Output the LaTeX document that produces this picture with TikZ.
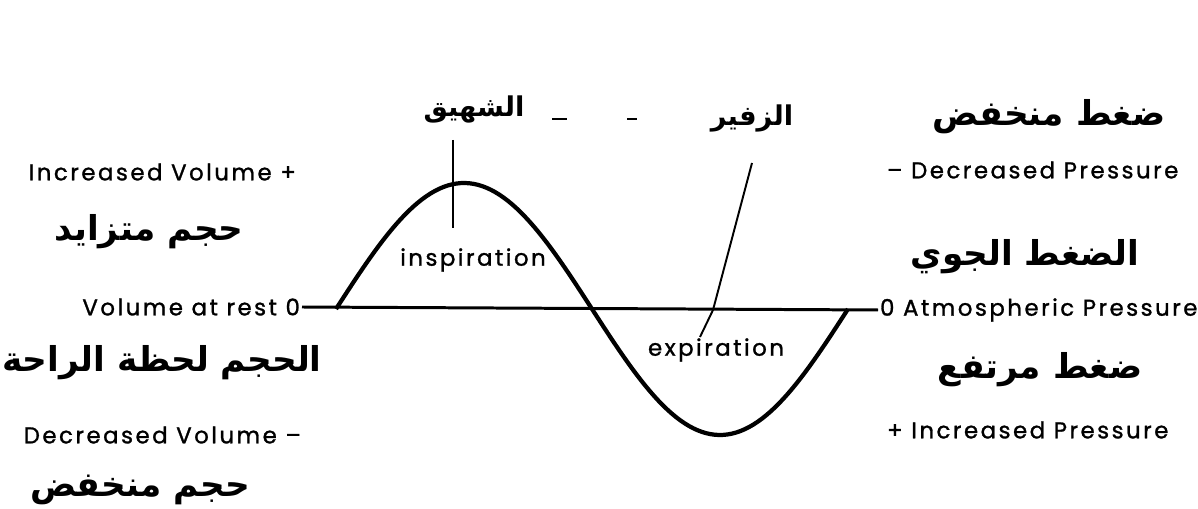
\documentclass[tikz,border=0pt]{standalone}
\usepackage{fontspec}
\setmainfont{Poppins}[LetterSpace=11, FakeBold=1.2]
\newfontfamily\arabicfont[Script=Arabic]{DejaVu Sans}
\TeXXeTstate=1
\usepackage{tikz}
\usetikzlibrary{calc}
\tikzset{
  lbl/.style={font=\fontsize{13}{15}\selectfont, inner sep=1pt},
  arlbl/.style={font=\arabicfont\bfseries\fontsize{19.5}{22}\selectfont, inner sep=1pt},
  artop/.style={arlbl, font=\arabicfont\bfseries\fontsize{15.5}{18}\selectfont},
  wave/.style={line width=2.4pt, line join=round},
  axis/.style={line width=1.7pt},
  lead/.style={line width=1.1pt}}

\begin{document}
\begin{tikzpicture}[x=0.02cm, y=-0.02cm]
  \useasboundingbox (0,0) rectangle (1198,509);
  % left side
  \node[lbl, anchor=east] (incv) at (298,172) {Increased Volume +};
  \node[arlbl] (incvar) at (149,232) {\beginR حجم متزايد\endR};
  \node[lbl, anchor=east] (rest) at (302,307) {Volume at rest 0};
  \node[arlbl] (restar) at (162,363) {\beginR الحجم لحظة الراحة\endR};
  \node[lbl, anchor=east] (decv) at (303,435) {Decreased Volume –};
  \node[arlbl] (decvar) at (140,490) {\beginR حجم منخفض\endR};
  % right side
  \node[arlbl] (lowpar) at (1049,117) {\beginR ضغط منخفض\endR};
  \node[lbl, anchor=west] (decp) at (885,170) {– Decreased Pressure};
  \node[arlbl] (atmpar) at (1025,257) {\beginR الضغط الجوي\endR};
  \node[lbl, anchor=west] (atm) at (878,310) {0 Atmospheric Pressure};
  \node[arlbl] (highpar) at (1040,370) {\beginR ضغط مرتفع\endR};
  \node[lbl, anchor=west] (incp) at (885,430) {+ Increased Pressure};
  % top labels
  \node[artop] (inspar) at (474,110) {\beginR الشهيق\endR};
  \node[artop] (expar) at (752,118) {\beginR الزفير\endR};
  \node[lbl] (insp) at (473,260) {inspiration};
  \node[lbl] (exp) at (716,350) {expiration};
  % zero line and breathing wave
  \draw[axis] (rest.east) -- (atm.west);
  \draw[wave] plot[domain=0:512, samples=120] ({336+\x},{309-126*sin(\x*0.703125)});
  % leaders
  \coordinate (insptop) at (453,140);
  \coordinate (inspend) at (453,228);
  \draw[lead, line width=1.6pt] (insptop) -- (inspend);
  \coordinate (exptop) at (752,163);
  \coordinate (expmid) at (713,310);
  \coordinate (expend) at (700,337);
  \draw[lead] (exptop) -- (expmid) -- (expend);
  \draw[lead] (552,119) -- (567,119);
  \draw[lead] (627,119) -- (637,119);
\end{tikzpicture}
\end{document}
